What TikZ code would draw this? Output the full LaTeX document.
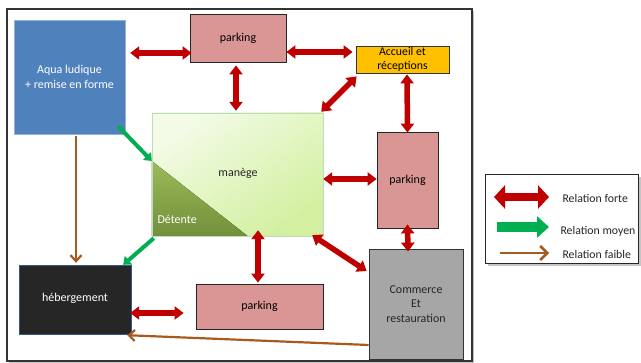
\documentclass[tikz,border=0pt]{standalone}
\usepackage{fontspec}
\setmainfont{Carlito}
\usetikzlibrary{arrows.meta,calc,shadows}
\definecolor{rforte}{HTML}{C00000}
\definecolor{gmoy}{HTML}{00B050}
\definecolor{bfaible}{HTML}{A65A1E}
\definecolor{parkfill}{HTML}{D99694}
\definecolor{aquafill}{HTML}{4F81BD}
\definecolor{accfill}{HTML}{FFC000}
\definecolor{commfill}{HTML}{A6A6A6}
\definecolor{hebfill}{HTML}{262626}
\definecolor{manUL}{HTML}{F3FBE6}
\definecolor{manLR}{HTML}{D2F0A0}
\definecolor{detT}{HTML}{9BBB59}
\definecolor{detB}{HTML}{72903A}
\begin{document}
\begin{tikzpicture}[x=1pt,y=-1pt,
  box/.style={draw, inner sep=0pt, align=center, font=\fontsize{12}{14.3}\selectfont},
  parkbox/.style={box, fill=parkfill, draw=black!85, line width=0.8pt},
  strong/.style={draw=rforte, line width=5.5pt,
     {Triangle[width=13pt,length=9pt]}-{Triangle[width=13pt,length=9pt]}},
  medium/.style={draw=gmoy, line width=4pt, -{Triangle[width=11pt,length=7pt]}},
  weak/.style={draw=bfaible, line width=2.2pt, -{Straight Barb[width=11pt,length=6pt]}},
  lbl/.style={font=\fontsize{11.8}{13}\selectfont, anchor=west, text=black!85}
]
\useasboundingbox (0,0) rectangle (641,363);
\fill[white] (0,0) rectangle (641,363);
% outer frame
\draw[line width=1.5pt, black!80, fill=white, drop shadow={opacity=0.45, shadow xshift=2pt, shadow yshift=-2pt}] (7,9) rectangle (472,361);

% nodes
\node[box, fill=aquafill, draw=aquafill!60!white, text=white, minimum width=111pt, minimum height=114pt] (aqua) at (69.5,77) {Aqua ludique\\+ remise en forme};
\node[parkbox, minimum width=96pt, minimum height=48pt] (ptop) at (238,38) {parking};
\node[box, fill=accfill, draw=black!80, line width=0.8pt, minimum width=93pt, minimum height=27pt, font=\fontsize{11.8}{14}\selectfont] (acc) at (402.5,59.5) {Accueil et\\réceptions};
\node[box, draw=green!30!gray!40, minimum width=171pt, minimum height=123pt,
  top color=manUL, bottom color=manLR, shading angle=35] (man) at (237.5,174.5) {};
\fill[top color=detT, bottom color=detB] (man.west |- 0,161) -- (man.south west) -- ([xshift=96pt]man.south west) -- cycle;
\draw[green!30!gray!40] (man.south west) rectangle (man.north east);
\node[font=\fontsize{12}{14}\selectfont, text=black!85] (mantxt) at (238,173) {manège};
\node[font=\fontsize{12}{14}\selectfont, text=white, anchor=west] (det) at (154,219) {Détente};
\node[parkbox, minimum width=61pt, minimum height=96pt] (pright) at (407.5,180) {parking};
\node[box, fill=commfill, draw=black!80, line width=0.8pt, minimum width=94pt, minimum height=110pt, text=black!85] (comm) at (416,304) {Commerce\\Et\\restauration};
\node[box, fill=hebfill, draw=aquafill!70!black, text=white, minimum width=112pt, minimum height=69pt] (heb) at (75,299.5) {\raisebox{5pt}{hébergement}};
\node[parkbox, minimum width=127pt, minimum height=45pt] (pbot) at (259.5,306.5) {parking};

% strong relations
\draw[strong] ([xshift=5pt,yshift=24pt]aqua.east) -- ([xshift=2pt,yshift=-15pt]ptop.west);
\draw[strong] ([yshift=-14pt]ptop.east) -- ([xshift=-3pt,yshift=7.5pt]acc.west);
\draw[strong] ([xshift=-2pt,yshift=-3pt]ptop.south) -- ([xshift=-1.5pt,yshift=2pt]man.north);
\draw[strong] ([xshift=1pt,yshift=-3pt]acc.south west) -- ([xshift=-2pt,yshift=1pt]man.north east);
\draw[strong] ([xshift=4.5pt,yshift=-1pt]acc.south) -- ([yshift=-1pt]pright.north);
\draw[strong] ([yshift=-4.5pt]man.east) -- ([yshift=1pt]pright.west);
\draw[strong] ([yshift=4pt]pright.south) -- ([xshift=-8pt,yshift=-3pt]comm.north);
\draw[strong] ([xshift=-11pt,yshift=1pt]man.south east) -- ([xshift=-2pt,yshift=33pt]comm.west);
\draw[strong] ([xshift=20.5pt,yshift=6pt]man.south) -- ([xshift=-1.5pt,yshift=1pt]pbot.north);
\draw[strong] ([xshift=-1pt,yshift=-13.5pt]heb.east) -- ([xshift=-12pt,yshift=-6.5pt]pbot.west);

% medium relations
\draw[medium] ([xshift=-7pt,yshift=8pt]aqua.south east) -- ([yshift=13.5pt]man.west);
\draw[medium] ([xshift=2pt,yshift=-2pt]man.south west) -- ([xshift=-8pt]heb.north east);

% weak relations
\draw[weak] ([xshift=6.5pt,yshift=-2pt]aqua.south) -- ([xshift=1pt,yshift=2pt]heb.north);
\draw[weak] ([yshift=-41pt]comm.west) -- ([xshift=-4pt,yshift=-1pt]heb.south east);

% legend
\node[draw=black!85, line width=1pt, fill=white, minimum width=153pt, minimum height=89pt, inner sep=0pt,
  drop shadow={opacity=0.45, shadow xshift=2pt, shadow yshift=-2pt}] (leg) at (562,219.5) {};
\coordinate (l1a) at (494,197); \coordinate (l1b) at (549,197);
\coordinate (l2a) at (497,227); \coordinate (l2b) at (549,227);
\coordinate (l3a) at (500,253); \coordinate (l3b) at (549,253);
\draw[draw=rforte, line width=8pt, {Triangle[width=23pt,length=11pt]}-{Triangle[width=23pt,length=11pt]}] (l1a) -- (l1b);
\draw[draw=gmoy, line width=10pt, -{Triangle[width=21pt,length=12pt]}] (l2a) -- (l2b);
\draw[draw=bfaible, line width=2.5pt, -{Straight Barb[width=14pt,length=7pt]}] (l3a) -- (l3b);
\node[lbl] (t1) at (559,198) {Relation forte};
\node[lbl] (t2) at (557,231) {Relation moyen};
\node[lbl] (t3) at (559,254) {Relation faible};
\end{tikzpicture}
\end{document}
